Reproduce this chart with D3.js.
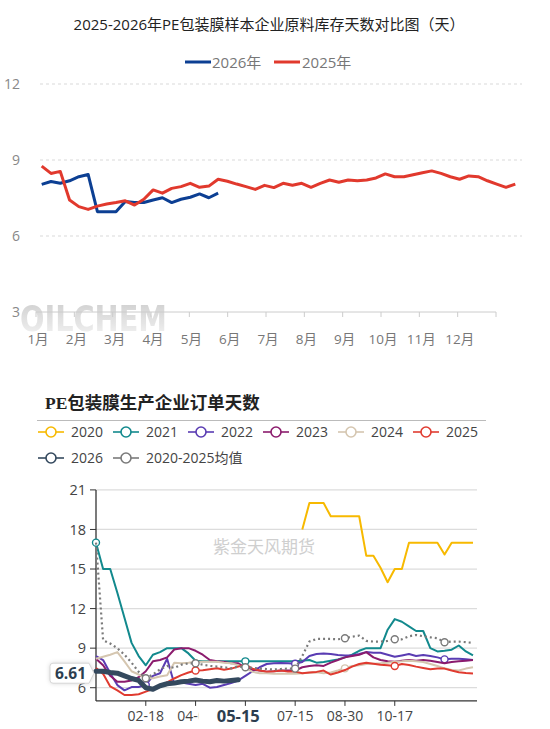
<!DOCTYPE html>
<html><head><meta charset="utf-8">
<script src="https://cdn.jsdelivr.net/npm/d3@7"></script>
<style>body{margin:0;background:#fff;}svg{display:block;}</style>
</head><body>
<svg id="c" width="550" height="729"></svg>
<script>
// ---------------- DATA: top chart ----------------
const topTitle = "2025-2026年PE包装膜样本企业原料库存天数对比图（天）";
const topSeriesNames = ["2026年", "2025年"];
const monthLabels = ["1月","2月","3月","4月","5月","6月","7月","8月","9月","10月","11月","12月"];
const topYTicks = [3, 6, 9, 12];
const inv2026 = [8.04,8.15,8.08,8.18,8.34,8.43,6.96,6.96,6.96,7.36,7.32,7.32,7.42,7.51,7.32,7.45,7.53,7.66,7.51,7.69];
const inv2025 = [8.76,8.47,8.55,7.42,7.16,7.05,7.18,7.26,7.32,7.39,7.22,7.45,7.82,7.69,7.88,7.95,8.08,7.92,7.97,8.24,
                 8.16,8.05,7.95,7.84,8.00,7.91,8.08,8.00,8.08,7.92,8.08,8.21,8.12,8.21,8.18,8.21,8.29,8.45,8.34,8.34,
                 8.42,8.50,8.57,8.47,8.34,8.24,8.37,8.34,8.18,8.05,7.92,8.05];

// ---------------- DATA: bottom chart ----------------
const botTitle = "PE包装膜生产企业订单天数";
const orderDates = ["01-01","01-08","01-15","01-22","01-29","02-05","02-12","02-18","02-25","03-04",
  "03-11","03-18","03-25","04-01","04-08","04-15","04-22","04-29","05-06","05-10",
  "05-15","05-22","05-29","06-05","06-12","06-19","06-26","07-03","07-15","07-22",
  "07-29","08-05","08-12","08-19","08-26","08-30","09-06","09-13","09-20","09-27",
  "10-04","10-11","10-17","10-24","10-31","11-07","11-14","11-21","11-28","12-05",
  "12-12","12-19","12-26","12-31"];
const xTickDates = ["02-18","04-08","05-22","07-15","08-30","10-17"];
const botYTicks = [6, 9, 12, 15, 18, 21];
const seriesNames = ["2020","2021","2022","2023","2024","2025","2026","2020-2025均值"];
const _ = null;
const ord2020 = [_,_,_,_,_,_,_,_,_,_,_,_,_,_,_,_,_,_,_,_,_,_,_,_,_,_,_,_,_,
  18,20,20,20,19,19,19,19,19,16,16,15.1,14,15,15,17,17,17,17,17,16.1,17,17,17,17];
const ord2021 = [17,15,15,13.2,11.3,9.4,8.4,7.7,8.5,8.7,9,9,9,8.6,8.05,8,8,8,8,8,
  8,8,8,8,8,8,8,8,8,8.05,8.1,7.9,7.95,8.05,8.15,8.3,8.5,8.8,9,9,
  9,10.4,11.2,11.0,10.65,10.3,10.3,9.0,8.75,8.8,8.88,9.2,8.75,8.45];
const ord2022 = [8.4,8.1,7.1,6.2,5.8,6.05,6.05,6.2,6.9,7.1,8.2,6.3,6.4,6.3,6.2,6.3,6.0,6.05,6.2,6.35,
  6.55,6.9,7.25,7.55,7.8,7.85,7.88,7.85,7.82,7.95,8.4,8.55,8.6,8.55,8.48,8.45,8.45,8.55,8.7,8.65,
  8.65,8.5,8.35,8.45,8.55,8.4,8.48,8.4,8.3,8.15,8.2,8.2,8.15,8.1];
const ord2023 = [8.2,7.7,6.9,6.45,6.45,6.55,6.8,7.25,8.0,8.1,8.3,8.9,9.0,9.0,8.8,8.5,8.1,8.0,7.95,7.85,
  7.85,7.5,7.35,7.3,7.22,7.25,7.3,7.3,7.3,7.55,7.65,7.7,7.65,7.9,8.1,8.3,8.4,8.5,8.7,8.3,
  8.1,8.0,7.97,8.05,8.1,8.05,8.1,8.05,7.95,7.85,7.95,8.0,8.05,8.1];
const ord2024 = [8.2,8.35,8.5,8.7,8.0,7.25,7.0,6.72,6.72,6.85,6.95,7.9,7.85,7.9,7.97,7.97,7.97,7.97,7.9,7.85,
  7.7,7.5,7.2,7.1,7.1,7.05,7.05,7.05,7.05,7.1,7.14,7.18,7.1,7.15,7.3,7.47,7.65,7.7,7.8,7.82,
  7.85,7.9,7.97,8.0,8.05,8.0,7.95,7.8,7.65,7.47,7.35,7.3,7.45,7.55];
const ord2025 = [7.5,7.05,6.1,5.8,5.45,5.45,5.5,5.7,5.9,6.08,6.4,6.7,6.95,7.15,7.3,7.33,7.4,7.47,7.36,7.45,
  7.6,7.75,7.45,7.3,7.22,7.25,7.3,7.22,7.22,7.1,7.15,7.2,7.3,7.0,7.15,7.34,7.6,7.8,7.9,7.82,
  7.75,7.7,7.65,7.8,7.72,7.6,7.5,7.4,7.45,7.45,7.3,7.18,7.12,7.08];
const ord2026 = [7.25,7.25,7.15,7.1,6.9,6.7,6.55,6.0,5.88,6.15,6.3,6.35,6.45,6.5,6.58,6.5,6.45,6.55,6.5,6.55,6.61];
const ordAvg = [17,9.6,9.35,9.0,8.5,7.9,7.2,6.72,7.0,7.4,7.65,7.5,7.75,7.85,7.85,7.75,7.65,7.6,7.55,7.47,
  7.6,7.55,7.5,7.45,7.42,7.38,7.42,7.45,7.45,8.4,9.5,9.7,9.7,9.7,9.67,9.75,9.87,9.95,9.55,9.5,
  9.5,9.55,9.67,9.67,9.9,10.0,9.9,9.82,9.75,9.45,9.5,9.5,9.45,9.4];
const pointerDate = "05-15";
const pointerLabel = "6.61";
const pointerCursorValue = 7.1;

// ---------------- STYLE ----------------
const FONT = '"Open Sans","Noto Sans CJK SC",sans-serif';
const topColors = ["#0c3f93", "#e1392d"];
const botColors = ["#f7b900","#12898d","#5a3cb3","#8b1b6d","#d5c6b0","#e03b30","#34495e","#7a7a7a"];
// which data points show a hollow circle symbol (by series index -> category indices)
const symbolAt = {1:[0,21], 2:[7,28,49], 4:[35], 5:[14,42], 7:[7,14,21,28,35,42,49]};

const svg = d3.select("#c").style("font-family", FONT);
const defs = svg.append("defs");
const grad = defs.append("linearGradient").attr("id","wm").attr("x1",0).attr("y1",0).attr("x2",0).attr("y2",1);
grad.append("stop").attr("offset","0%").attr("stop-color","#c9c9c9");
grad.append("stop").attr("offset","100%").attr("stop-color","#f3f3f3");

// =============== TOP CHART ===============
const yT = d3.scaleLinear().domain([3, 12]).range([312, 84]);
const xM = d3.scaleLinear().domain([0, 12]).range([36, 496]);
const xW = d3.scaleLinear().domain([0, inv2025.length - 1]).range([41.7, 515.3]);

svg.append("text").attr("x", 269).attr("y", 30).attr("text-anchor","middle")
  .attr("font-size", 15).attr("fill", "#222").text(topTitle);

// legend
const tl = [[185, 212], [274, 302]];
topSeriesNames.forEach((n, i) => {
  svg.append("line").attr("x1", tl[i][0]).attr("x2", tl[i][0] + 26).attr("y1", 62).attr("y2", 62)
    .attr("stroke", topColors[i]).attr("stroke-width", 3);
  svg.append("text").attr("x", tl[i][1]).attr("y", 67.5).attr("font-size", 15).attr("fill", "#777").text(n);
});

// watermark
svg.append("text").attr("x", 20).attr("y", 331).attr("font-size", 35).attr("font-weight", "bold")
  .attr("font-family", "'DejaVu Sans',sans-serif").attr("textLength", 147).attr("lengthAdjust","spacingAndGlyphs")
  .attr("fill", "url(#wm)").attr("opacity", 0.9).text("OILCHEM");

// grid
svg.append("g").selectAll("line").data(topYTicks.filter(d => d > 3)).join("line")
  .attr("x1", 40).attr("x2", 522).attr("y1", d => yT(d)).attr("y2", d => yT(d))
  .attr("stroke", "#d9d9d9").attr("stroke-dasharray", "3,3");
svg.append("g").selectAll("text").data(topYTicks).join("text")
  .attr("x", 20).attr("y", d => yT(d)).attr("dy", "0.35em").attr("text-anchor", "end")
  .attr("font-size", 14).attr("fill", "#888").text(d => d);

// x axis
svg.append("line").attr("x1", xM(0)).attr("x2", xM(12)).attr("y1", yT(3)).attr("y2", yT(3))
  .attr("stroke", "#ccc").attr("stroke-width", 1);
svg.append("g").selectAll("line").data(d3.range(13)).join("line")
  .attr("x1", d => xM(d)).attr("x2", d => xM(d)).attr("y1", yT(3)).attr("y2", yT(3) + 5)
  .attr("stroke", "#ccc");
svg.append("g").selectAll("text").data(monthLabels).join("text")
  .attr("x", (d, i) => xM(i) + 2).attr("y", 344).attr("text-anchor", "middle")
  .attr("font-size", 13.5).attr("fill", "#777").text(d => d);

const lineT = d3.line().x((d, i) => xW(i)).y(d => yT(d));
[inv2026, inv2025].forEach((s, i) => {
  svg.append("path").datum(s).attr("d", lineT).attr("fill", "none")
    .attr("stroke", topColors[i]).attr("stroke-width", 3).attr("stroke-linejoin", "round");
});

// =============== BOTTOM CHART ===============
svg.append("text").attr("x", 45).attr("y", 409).attr("font-size", 17.5).attr("font-weight", "bold")
  .attr("font-family", '"Liberation Serif","Noto Sans CJK SC",serif').attr("fill", "#222").text(botTitle);
svg.append("line").attr("x1", 37).attr("x2", 486).attr("y1", 420.5).attr("y2", 420.5)
  .attr("stroke", "#bbb").attr("stroke-width", 1);

// legend
seriesNames.forEach((n, i) => {
  const row = i < 6 ? 0 : 1, col = i < 6 ? i : i - 6;
  const lx = 38 + col * 75, ly = row === 0 ? 432 : 458;
  const g = svg.append("g");
  g.append("line").attr("x1", lx).attr("x2", lx + 26).attr("y1", ly).attr("y2", ly)
    .attr("stroke", botColors[i]).attr("stroke-width", 1.6);
  g.append("circle").attr("cx", lx + 13).attr("cy", ly).attr("r", 5)
    .attr("fill", "#fff").attr("stroke", botColors[i]).attr("stroke-width", 1.6);
  g.append("text").attr("x", lx + 33).attr("y", ly).attr("dy", "0.36em")
    .attr("font-size", 14).attr("fill", "#444").text(n);
});

const xB = d3.scalePoint().domain(orderDates).range([96, 473]);
const yB = d3.scaleLinear().domain([5, 21]).range([700.9, 489.9]);

// watermark text
svg.append("text").attr("x", 213).attr("y", 553).attr("font-size", 17).attr("fill", "#cfcfcf")
  .text("紫金天风期货");

// grid
svg.append("g").selectAll("line").data(botYTicks).join("line")
  .attr("x1", 96).attr("x2", 477).attr("y1", d => yB(d)).attr("y2", d => yB(d))
  .attr("stroke", "#dcdcdc").attr("stroke-width", 1.2);
// y axis
svg.append("line").attr("x1", 96).attr("x2", 96).attr("y1", yB(21)).attr("y2", yB(5))
  .attr("stroke", "#333").attr("stroke-width", 1.3);
svg.append("g").selectAll("line").data(botYTicks).join("line")
  .attr("x1", 90).attr("x2", 96).attr("y1", d => yB(d)).attr("y2", d => yB(d)).attr("stroke", "#333");
svg.append("g").selectAll("text").data(botYTicks).join("text")
  .attr("x", 86).attr("y", d => yB(d)).attr("dy", "0.36em").attr("text-anchor", "end")
  .attr("font-size", 14.5).attr("fill", "#444").text(d => d);
// x axis
svg.append("line").attr("x1", 96).attr("x2", 477).attr("y1", yB(5)).attr("y2", yB(5))
  .attr("stroke", "#333").attr("stroke-width", 1.3);
svg.append("g").selectAll("line").data(xTickDates).join("line")
  .attr("x1", d => xB(d)).attr("x2", d => xB(d)).attr("y1", yB(5)).attr("y2", yB(5) + 5).attr("stroke", "#333");

// the axis-pointer label hides the labels it sits on: clip them at its box
const px = xB(pointerDate);
const boxL = px - 40, boxR = px + 38;
defs.append("clipPath").attr("id", "lblclip").append("rect")
  .attr("x", 0).attr("y", 700).attr("width", boxL).attr("height", 29);
svg.append("g").selectAll("text").data(xTickDates.filter(d => xB(d) < boxL || xB(d) > boxR + 17)).join("text")
  .attr("x", d => xB(d)).attr("y", 721).attr("text-anchor", "middle")
  .attr("clip-path", d => xB(d) < boxL ? "url(#lblclip)" : null)
  .attr("font-size", 14).attr("fill", "#444").text(d => d);

// series
const allSeries = [ord2020, ord2021, ord2022, ord2023, ord2024, ord2025, ord2026, ordAvg];
const lineB = d3.line().defined(d => d != null).x((d, i) => xB(orderDates[i])).y(d => yB(d));
const drawOrder = [0, 1, 2, 3, 4, 5, 7, 6];
drawOrder.forEach(si => {
  const s = allSeries[si];
  const p = svg.append("path").datum(s).attr("d", lineB).attr("fill", "none")
    .attr("stroke", botColors[si]).attr("stroke-linejoin", "round");
  if (si === 6) p.attr("stroke-width", 5).attr("stroke-linecap", "round");
  else if (si === 7) p.attr("stroke-width", 2.2).attr("stroke-dasharray", "2,3");
  else p.attr("stroke-width", 2);
  (symbolAt[si] || []).forEach(k => {
    if (s[k] == null) return;
    svg.append("circle").attr("cx", xB(orderDates[k])).attr("cy", yB(s[k])).attr("r", 3.5)
      .attr("fill", "#fff").attr("stroke", botColors[si]).attr("stroke-width", 1.4);
  });
});

// axis pointer label on x
svg.append("text").attr("x", px).attr("y", 722).attr("text-anchor", "middle").attr("font-size", 16.5)
  .attr("font-weight", "bold").attr("fill", "#2c3e50").text(pointerDate);

// axis pointer label on y
const py = yB(pointerCursorValue);
const bx0 = 50, bx1 = 89, tip = 94;
svg.append("path")
  .attr("d", `M${bx0+3},${py-10} H${bx1} L${tip},${py} L${bx1},${py+10} H${bx0+3} Q${bx0},${py+10} ${bx0},${py+7} V${py-7} Q${bx0},${py-10} ${bx0+3},${py-10} Z`)
  .attr("fill", "#fff").attr("stroke", "#d6d6d6").attr("stroke-width", 1)
  .style("filter", "drop-shadow(0 0 2px rgba(0,0,0,0.15))");
svg.append("text").attr("x", (bx0 + bx1) / 2 + 1).attr("y", py).attr("dy", "0.36em").attr("text-anchor", "middle")
  .attr("font-size", 15.5).attr("font-weight", "bold").attr("fill", "#2c3e50").text(pointerLabel);
</script>
</body></html>
